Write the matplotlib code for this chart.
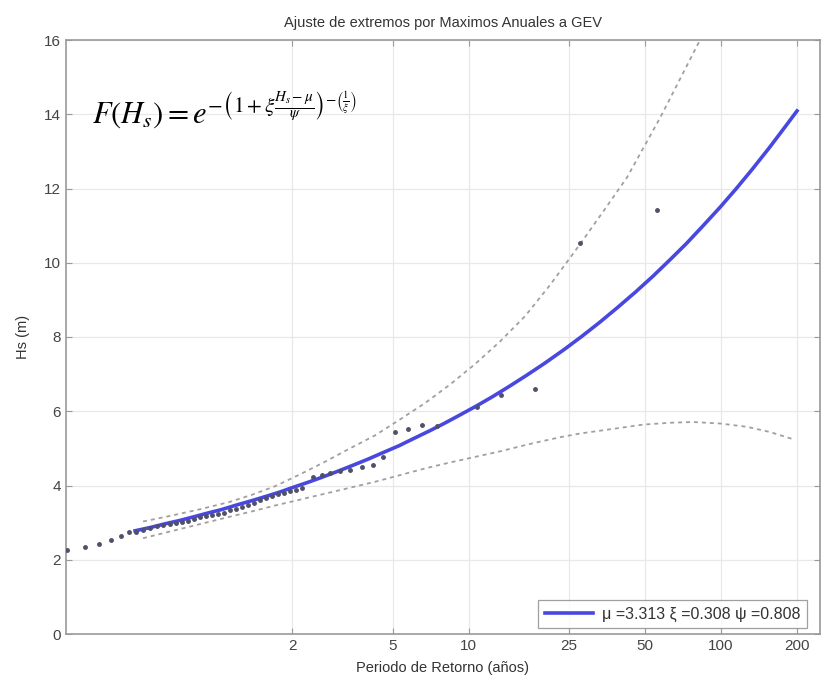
import matplotlib
matplotlib.use("Agg")
import matplotlib.pyplot as plt
from matplotlib.ticker import FixedLocator, NullLocator, FixedFormatter

# ---------------- data ----------------
# observed annual maxima (return period in years, Hs in m)
obs_T = [0.256, 0.303, 0.344, 0.384, 0.420, 0.452, 0.482,
         0.514, 0.548, 0.584, 0.617, 0.657, 0.694, 0.734, 0.775, 0.818,
         0.864, 0.913, 0.965, 1.019, 1.076, 1.136, 1.200, 1.268, 1.339,
         1.414, 1.494, 1.578, 1.667, 1.760, 1.859, 1.964, 2.074, 2.191,
         2.43, 2.62, 2.83, 3.10, 3.40, 3.78, 4.20, 4.60, 5.12, 5.78,
         6.54, 7.50, 10.78, 13.5, 18.3, 27.65, 55.8]
obs_H = [2.26, 2.33, 2.42, 2.53, 2.63, 2.75, 2.75,
         2.80, 2.86, 2.90, 2.93, 2.97, 3.00, 3.03, 3.05, 3.10,
         3.14, 3.17, 3.20, 3.22, 3.27, 3.33, 3.38, 3.42, 3.47,
         3.52, 3.60, 3.66, 3.72, 3.76, 3.80, 3.84, 3.88, 3.93,
         4.24, 4.29, 4.33, 4.38, 4.42, 4.51, 4.56, 4.78, 5.44, 5.52,
         5.62, 5.61, 6.11, 6.45, 6.60, 10.53, 11.41]

# fitted GEV curve
fit_T = [0.478, 0.55, 0.63, 0.72, 0.82, 0.93, 1.05, 1.2, 1.4, 1.6, 1.8, 2.0,
         2.3, 2.6, 3.0, 3.5, 4.0, 4.6, 5.3, 6.0, 7.0, 8.0, 9.25, 10.8, 12.5,
         14.5, 17.0, 20.0, 24.0, 28.0, 33.0, 39.0, 46.0, 54.0, 63.0, 73.0,
         85.0, 99.0, 115.0, 133.0, 155.0, 178.0, 200.0]
fit_H = [2.78, 2.87, 2.97, 3.06, 3.16, 3.26, 3.35, 3.47, 3.60, 3.72, 3.83, 3.94,
         4.08, 4.21, 4.37, 4.55, 4.71, 4.89, 5.07, 5.25, 5.47, 5.67, 5.90, 6.15, 6.40,
         6.67, 6.97, 7.29, 7.67, 8.01, 8.39, 8.80, 9.22, 9.65, 10.09, 10.52,
         11.00, 11.49, 12.00, 12.52, 13.09, 13.63, 14.09]

# confidence bounds
up_T = [0.514, 0.657, 0.864, 1.136, 1.401, 1.713, 2.151, 2.702, 3.394, 4.264,
        5.356, 6.727, 8.449, 10.61, 13.33, 16.74, 21.03, 27.65, 34.72, 42.44,
        57.34, 82.59, 90.46]
up_H = [3.03, 3.18, 3.36, 3.56, 3.76, 3.98, 4.30, 4.64, 5.00, 5.35,
        5.78, 6.22, 6.72, 7.27, 7.88, 8.56, 9.40, 10.50, 11.45, 12.30,
        13.90, 16.00, 16.60]

lo_T = [0.514, 0.657, 0.864, 1.136, 1.401, 1.713, 2.151, 2.702, 3.394, 4.264,
        5.356, 6.727, 8.449, 10.61, 13.33, 17.52, 23.04, 27.65, 49.1, 62.8,
        77.5, 99.1, 126.8, 156.4, 196.4]
lo_H = [2.58, 2.76, 2.96, 3.16, 3.31, 3.46, 3.62, 3.78, 3.94, 4.10,
        4.28, 4.46, 4.62, 4.77, 4.92, 5.12, 5.30, 5.40, 5.64, 5.69,
        5.71, 5.67, 5.58, 5.44, 5.23]

x_ticks = [2, 5, 10, 25, 50, 100, 200]
x_tick_labels = ["2", "5", "10", "25", "50", "100", "200"]
y_ticks = [0, 2, 4, 6, 8, 10, 12, 14, 16]

legend_label = "\u03bc =3.313 \u03be =0.308 \u03c8 =0.808"

# ---------------- figure ----------------
plt.rcParams['font.family'] = ['Liberation Sans', 'DejaVu Sans']
plt.rcParams['mathtext.fontset'] = 'stix'
fig = plt.figure(figsize=(8.24, 6.81), dpi=100)
ax = fig.add_axes([66/824, 1-634/681, (820-66)/824, (634-40)/681])

ax.set_xscale('log')
ax.set_xlim(0.2546, 246.6)
ax.set_ylim(0, 16)

ax.plot(up_T, up_H, color='#a0a0a0', lw=1.3, ls=(0, (2.2, 2.2)), zorder=2)
ax.plot(lo_T, lo_H, color='#a0a0a0', lw=1.3, ls=(0, (2.2, 2.2)), zorder=2)
line, = ax.plot(fit_T, fit_H, color='#4848e0', lw=2.6, zorder=3, label=legend_label)
ax.plot(obs_T, obs_H, ls='none', marker='o', ms=2.5, color='#505068', zorder=4)

ax.xaxis.set_major_locator(FixedLocator(x_ticks))
ax.xaxis.set_major_formatter(FixedFormatter(x_tick_labels))
ax.xaxis.set_minor_locator(NullLocator())
ax.set_yticks(y_ticks)

ax.grid(True, color='#e8e8e8', lw=0.9)
ax.set_axisbelow(True)
ax.tick_params(direction='in', length=4, width=0.8, top=True, right=True,
               colors='#999999', labelcolor='#444444', labelsize=11)
for s in ax.spines.values():
    s.set_color('#9a9a9a')
    s.set_linewidth(1.2)

ax.set_title("Ajuste de extremos por Maximos Anuales a GEV", fontsize=10.5,
             color='#333333', pad=9)
ax.set_xlabel("Periodo de Retorno (años)", fontsize=10.5, color='#333333', labelpad=6)
ax.set_ylabel("Hs (m)", fontsize=10.5, color='#333333', labelpad=10)

leg = ax.legend(handles=[line], loc='lower right', fontsize=11.5, frameon=True,
                fancybox=False, edgecolor='#888888', handlelength=3.0,
                bbox_to_anchor=(1 - 13/754, 6/594), borderaxespad=0.0,
                borderpad=0.4, handletextpad=0.6)
leg.get_frame().set_linewidth(0.9)
for t in leg.get_texts():
    t.set_color('#333333')

ax.text(0.035, 0.86,
        r'$F(H_s) = e^{-\left(1+\xi\frac{H_s-\mu}{\psi}\right)^{-\left(\frac{1}{\xi}\right)}}$',
        transform=ax.transAxes, fontsize=22, color='black', ha='left', va='baseline')

fig.savefig("out.png", dpi=100)
